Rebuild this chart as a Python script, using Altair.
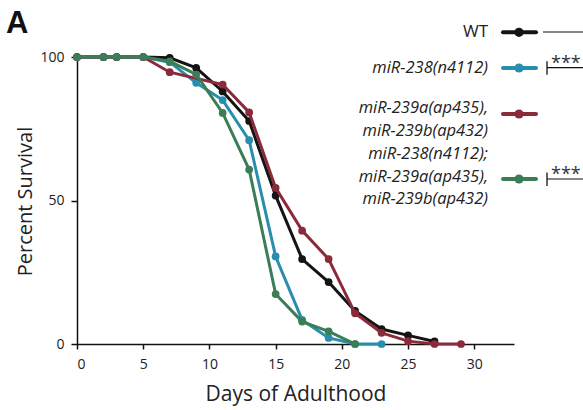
import altair as alt
import pandas as pd

# ---- data ----
days = [0, 2, 3, 5, 7, 9, 11, 13, 15, 17, 19, 21, 23, 25, 27, 29]
wt = [100, 100, 100, 100, 99.7, 96.2, 88.0, 77.7, 51.7, 29.6, 21.6, 11.5, 5.2, 3.0, 0.9, None]
mir238 = [100, 100, 100, 100, 98.2, 91.0, 85.0, 71.0, 30.5, 8.4, 2.1, 0.0, 0.0, None, None, None]
mir239 = [100, 100, 100, 100, 94.7, None, 90.4, 80.7, 54.4, 39.5, 29.6, 10.7, 3.9, 1.0, 0.0, 0.0]
triple = [100, 100, 100, 100, 98.5, 93.9, 80.5, 60.8, 17.4, 7.8, 4.4, 0.0, None, None, None, None]

series_names = ["WT", "miR-238", "miR-239ab", "triple"]
series_values = [wt, mir238, mir239, triple]
colors = ["#141414", "#2b8dae", "#8a2a3b", "#3b7d57"]

legend_lines = [
    ["WT"],
    ["miR-238(n4112)"],
    ["miR-239a(ap435),", "miR-239b(ap432)"],
    ["miR-238(n4112);", "miR-239a(ap435),", "miR-239b(ap432)"],
]
x_ticks = [0, 5, 10, 15, 20, 25, 30]
y_ticks = [0, 50, 100]

FONT = "Open Sans"

rows = []
for name, vals in zip(series_names, series_values):
    for d, v in zip(days, vals):
        if v is not None:
            rows.append({"day": d, "pct": v, "strain": name})
df = pd.DataFrame(rows)

xscale = alt.Scale(domain=[0, 33], nice=False, zero=False)
yscale = alt.Scale(domain=[0, 100], nice=False)

xaxis = alt.Axis(values=x_ticks, title="Days of Adulthood", grid=False,
                 tickSize=5, tickWidth=1.5, domainWidth=1.5, domainColor="#111",
                 tickColor="#111", labelFontSize=14, labelPadding=8,
                 labelColor="#222", labelFont=FONT, titleFont=FONT,
                 titleFontSize=21, titleFontWeight="normal", titleColor="#222",
                 titleBaseline="alphabetic", titleY=56)
yaxis = alt.Axis(values=y_ticks, title="Percent Survival", grid=False,
                 tickSize=6, tickWidth=1.5, domainWidth=1.5, domainColor="#111",
                 tickColor="#111", labelFontSize=14, labelPadding=7,
                 labelColor="#222", labelFont=FONT, titleFont=FONT,
                 titleFontSize=20, titleFontWeight="normal", titleColor="#222",
                 titleX=-52, titleY=144, titleAlign="center", titleBaseline="middle",
                 titleAngle=270)

base = alt.Chart(df)
layers = []
for name, col in zip(series_names, colors):
    sub = base.transform_filter(alt.datum.strain == name)
    enc = dict(
        x=alt.X("day:Q", scale=xscale, axis=xaxis),
        y=alt.Y("pct:Q", scale=yscale, axis=yaxis),
    )
    layers.append(sub.mark_line(color=col, strokeWidth=3).encode(**enc))
    layers.append(sub.mark_circle(color=col, size=60, opacity=1).encode(**enc))

one = alt.Chart(pd.DataFrame({"a": [0]}))

# ---- custom legend (pixel positions relative to plot origin) ----
text_right = 411
row_dot_y = [-24.7, 11, 57, 122]
row_text_y = [[-24.7], [11], [51, 73.5], [97, 119.5, 142]]
for i, col in enumerate(colors):
    y = row_dot_y[i]
    layers.append(one.mark_rule(color=col, strokeWidth=4, strokeCap="round").encode(
        x=alt.value(426), x2=alt.value(459), y=alt.value(y)))
    layers.append(one.mark_circle(color=col, size=85, opacity=1).encode(
        x=alt.value(442), y=alt.value(y)))
    for txt, ty in zip(legend_lines[i], row_text_y[i]):
        layers.append(one.mark_text(
            text=txt, align="right", baseline="middle", font=FONT,
            fontSize=17 if i == 0 else 16.5, fontStyle="normal" if i == 0 else "italic",
            color="#222").encode(x=alt.value(text_right), y=alt.value(ty)))

# significance brackets
layers.append(one.mark_rule(color="#111", strokeWidth=1.2).encode(
    x=alt.value(466), x2=alt.value(506), y=alt.value(-25)))
for by in [10.7, 122]:
    layers.append(one.mark_rule(color="#111", strokeWidth=1.2).encode(
        x=alt.value(470), x2=alt.value(506), y=alt.value(by)))
    layers.append(one.mark_rule(color="#111", strokeWidth=1.3).encode(
        x=alt.value(470), y=alt.value(by - 6.5), y2=alt.value(by + 7)))
    layers.append(one.mark_text(text="***", align="left", baseline="alphabetic",
                                font=FONT, fontSize=18, color="#333").encode(
        x=alt.value(474), y=alt.value(by + 1)))

# panel letter
layers.append(one.mark_text(text="A", align="left", baseline="alphabetic",
                            font="Liberation Sans", fontSize=31, fontWeight="bold",
                            color="#111").encode(x=alt.value(-71), y=alt.value(-24)))

chart = alt.layer(*layers).properties(
    width=437, height=287,
    autosize=alt.AutoSizeParams(type="none"),
    padding={"left": 77, "top": 57, "right": 69, "bottom": 66},
    background="white",
).configure_view(stroke=None)

chart.save("out.html", embed_options={"renderer": "svg", "actions": False})
